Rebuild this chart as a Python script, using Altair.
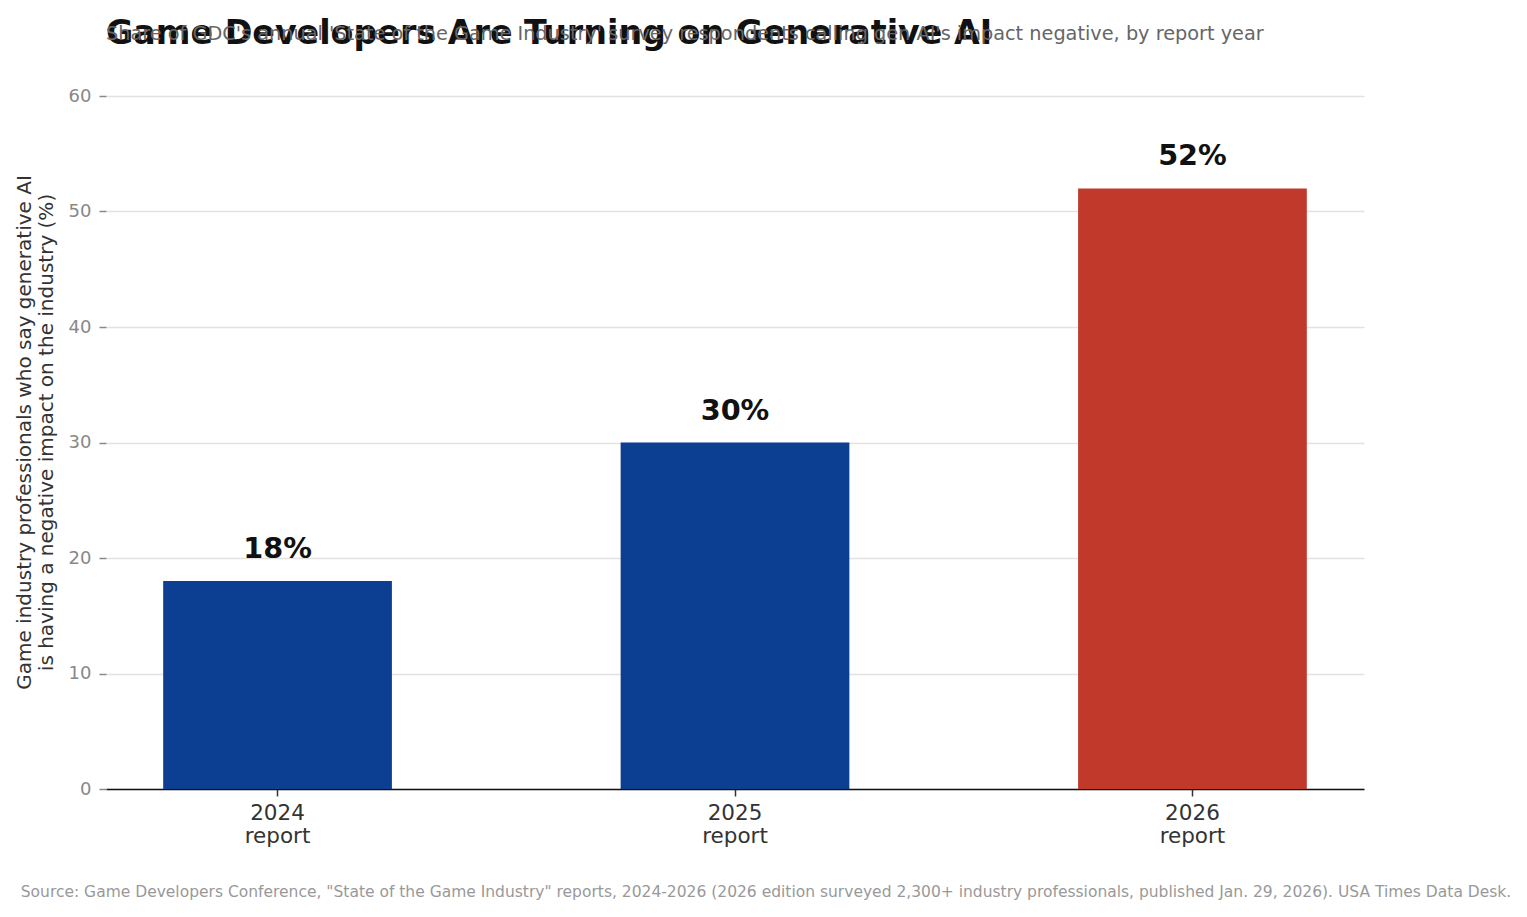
import altair as alt
import pandas as pd

categories = ["2024 report", "2025 report", "2026 report"]
values = [18, 30, 52]
labels = ["18%", "30%", "52%"]
colors = ["#0c3e91", "#0c3e91", "#c0392b"]

df = pd.DataFrame({"cat": categories, "val": values, "lab": labels, "col": colors})
foot = pd.DataFrame({"t": ['Source: Game Developers Conference, "State of the Game Industry" reports, 2024-2026 (2026 edition surveyed 2,300+ industry professionals, published Jan. 29, 2026). USA Times Data Desk.']})

FONT = "DejaVu Sans"

x = alt.X("cat:N", sort=categories,
          scale=alt.Scale(paddingInner=0.5, paddingOuter=0.125),
          axis=alt.Axis(title=None, labelAngle=0, labelExpr="split(datum.label, ' ')",
                        labelFontSize=21.5, labelColor="#333333", labelLineHeight=23,
                        labelPadding=6, tickSize=7, tickColor="#333333", tickWidth=1.5,
                        domainColor="#111111", domainWidth=1.5, grid=False))
y = alt.Y("val:Q", scale=alt.Scale(domain=[0, 60], nice=False),
          axis=alt.Axis(title=["Game industry professionals who say generative AI",
                               "is having a negative impact on the industry (%)"],
                        titleFontSize=20, titleColor="#333333", titleFontWeight="normal",
                        titlePadding=12, titleLineHeight=22, titleY=336,
                        values=[0, 10, 20, 30, 40, 50, 60],
                        labelFontSize=18, labelColor="#888888", labelPadding=8,
                        tickSize=7, tickColor="#888888", tickWidth=1.5,
                        domain=False, grid=True, gridColor="#e2e2e2", gridWidth=1.5))

bars = alt.Chart(df).mark_bar().encode(
    x=x, y=y, color=alt.Color("col:N", scale=None)
)
text = alt.Chart(df).mark_text(font=FONT, fontSize=28.7, fontWeight="bold", color="#111111",
                               baseline="alphabetic", dy=-23).encode(
    x=alt.X("cat:N", sort=categories), y="val:Q", text="lab:N"
)
footer = alt.Chart(foot).mark_text(font=FONT, fontSize=15.5, color="#999999",
                                   baseline="alphabetic", align="center").encode(
    x=alt.value(660), y=alt.value(801), text="t:N"
)

chart = alt.layer(bars, text, footer).properties(
    width=1258, height=693,
    autosize=alt.AutoSizeParams(type="none"),
    padding={"left": 98, "top": 88, "right": 155, "bottom": 120},
    title=alt.TitleParams(
        text="Game Developers Are Turning on Generative AI",
        subtitle="Share of GDC's annual 'State of the Game Industry' survey respondents calling gen AI's impact negative, by report year",
        anchor="start", frame="group", font=FONT, fontSize=33.3, fontWeight="bold",
        color="#111111", subtitleFont=FONT, subtitleFontSize=19.3, subtitleColor="#666666",
        subtitlePadding=-26, offset=36),
).configure(font=FONT).configure_view(stroke=None)

chart.save("out.html", embed_options={"renderer": "svg", "actions": False})
